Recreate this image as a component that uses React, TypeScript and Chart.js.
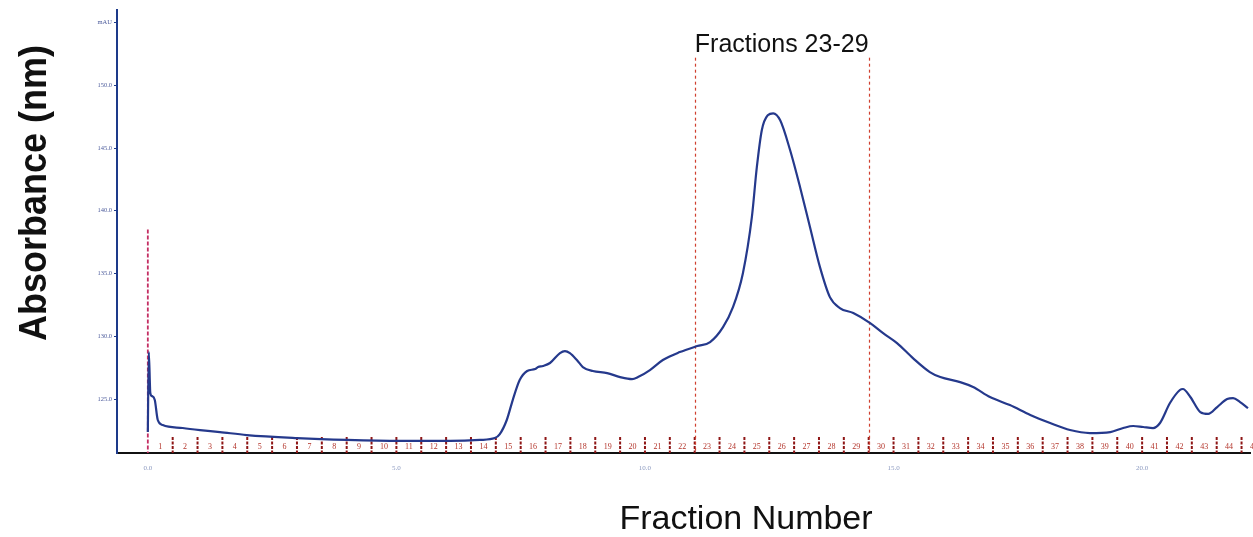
import React, { useEffect, useRef } from 'react';
import { Chart, registerables } from 'chart.js';

Chart.register(...registerables);

// Elution time (min) and UV absorbance (mAU)
const elutionTime = [
  0.0, 0.02, 0.05, 0.08, 0.14, 0.2, 0.3, 0.7, 1.05, 1.45, 1.99, 3.0, 4.0, 5.07, 6.08, 6.68, 6.98,
  7.08, 7.22, 7.34, 7.48, 7.63, 7.79, 7.85, 7.95, 8.09, 8.29, 8.39, 8.49, 8.63, 8.75, 8.95, 9.24,
  9.5, 9.74, 9.86, 10.1, 10.36, 10.7, 11.05, 11.31, 11.57, 11.77, 11.97, 12.15, 12.25, 12.35, 12.47,
  12.58, 12.72, 12.92, 13.12, 13.32, 13.52, 13.72, 13.92, 14.19, 14.53, 14.79, 15.07, 15.39, 15.73,
  15.94, 16.34, 16.6, 16.94, 17.34, 17.75, 18.15, 18.55, 18.95, 19.36, 19.62, 19.82, 20.02, 20.22,
  20.36, 20.56, 20.76, 20.82, 20.97, 21.17, 21.33, 21.51, 21.71, 21.83, 21.97, 22.13,
];
const absorbanceMAU = [
  122.37, 128.74, 125.48, 125.24, 124.92, 123.33, 122.93, 122.69, 122.53, 122.37, 122.13, 121.89,
  121.74, 121.66, 121.66, 121.74, 121.89, 122.21, 123.33, 124.92, 126.51, 127.23, 127.39, 127.55,
  127.63, 127.87, 128.66, 128.82, 128.66, 128.11, 127.55, 127.23, 127.07, 126.75, 126.59, 126.75,
  127.31, 128.11, 128.74, 129.22, 129.54, 130.73, 132.32, 135.03, 139.49, 143.47, 146.42, 147.61,
  147.77, 147.21, 144.82, 141.88, 138.69, 135.51, 133.12, 132.25, 131.85, 131.05, 130.25, 129.46,
  128.26, 127.15, 126.75, 126.35, 125.96, 125.16, 124.52, 123.73, 123.09, 122.53, 122.29, 122.37,
  122.69, 122.85, 122.77, 122.69, 123.09, 124.68, 125.72, 125.8, 125.16, 123.96, 123.81, 124.36,
  125.0, 125.08, 124.76, 124.28,
];

const xTickValues = [0, 5, 10, 15, 20];
const yTickValues = [125, 130, 135, 140, 145, 150, 155];
const yTopTickLabel = 'mAU';

const fractionNumbers = [
  1, 2, 3, 4, 5, 6, 7, 8, 9, 10, 11, 12, 13, 14, 15, 16, 17, 18, 19, 20, 21, 22, 23, 24, 25, 26, 27,
  28, 29, 30, 31, 32, 33, 34, 35, 36, 37, 38, 39, 40, 41, 42, 43, 44, 45,
];
const fractionWidthMin = 0.5;
const pooledFractions = [23, 29];
const pooledLabel = 'Fractions 23-29';
const injectionMarkTop = 138.5;
const pooledLineTop = 152.2;

const xTitle = 'Fraction Number';
const yTitle = 'Absorbance (nm)';

const overlayPlugin = {
  id: 'chromOverlay',
  beforeDatasetsDraw(chart: any) {
    const { ctx, chartArea, scales } = chart;
    const xs = scales.x;
    const ys = scales.y;
    const bottom = chartArea.bottom;
    ctx.save();
    // fraction boundary ticks
    ctx.strokeStyle = '#8e1616';
    ctx.lineWidth = 2;
    ctx.setLineDash([3, 1.5]);
    fractionNumbers.forEach((n) => {
      const t = (n - 1) * fractionWidthMin;
      if (t <= 0) return;
      const px = xs.getPixelForValue(t);
      if (px > chartArea.right + 1) return;
      ctx.beginPath();
      ctx.moveTo(px, bottom - 16);
      ctx.lineTo(px, bottom);
      ctx.stroke();
    });
    // fraction labels
    ctx.setLineDash([]);
    ctx.fillStyle = '#b3352b';
    ctx.font = '8px "Liberation Serif", serif';
    ctx.textAlign = 'center';
    ctx.textBaseline = 'middle';
    fractionNumbers.forEach((n) => {
      const t = (n - 0.5) * fractionWidthMin;
      const px = xs.getPixelForValue(t);
      if (px > chartArea.right + 4) return;
      ctx.fillText(String(n), px, bottom - 6);
    });
    // injection marker
    ctx.strokeStyle = '#c42e63';
    ctx.lineWidth = 1.8;
    ctx.setLineDash([4, 2]);
    const x0 = xs.getPixelForValue(0);
    ctx.beginPath();
    ctx.moveTo(x0, ys.getPixelForValue(injectionMarkTop));
    ctx.lineTo(x0, bottom);
    ctx.stroke();
    // pooled fraction window
    ctx.strokeStyle = '#d0402f';
    ctx.lineWidth = 1.2;
    ctx.setLineDash([3, 3]);
    const tStart = (pooledFractions[0] - 1) * fractionWidthMin;
    const tEnd = pooledFractions[1] * fractionWidthMin;
    [tStart, tEnd].forEach((t) => {
      const px = Math.round(xs.getPixelForValue(t)) + 0.5;
      ctx.beginPath();
      ctx.moveTo(px, ys.getPixelForValue(pooledLineTop));
      ctx.lineTo(px, bottom);
      ctx.stroke();
    });
    ctx.restore();
  },
  afterDraw(chart: any) {
    const { ctx, scales } = chart;
    const xs = scales.x;
    const tStart = (pooledFractions[0] - 1) * fractionWidthMin;
    const tEnd = pooledFractions[1] * fractionWidthMin;
    ctx.save();
    ctx.fillStyle = '#111';
    ctx.textAlign = 'center';
    ctx.textBaseline = 'middle';
    ctx.font = '25px "Liberation Sans", Arial, sans-serif';
    ctx.fillText(pooledLabel, (xs.getPixelForValue(tStart) + xs.getPixelForValue(tEnd)) / 2, 45);
    ctx.font = '34px "Liberation Sans", Arial, sans-serif';
    ctx.fillText(xTitle, 746, 520);
    ctx.translate(35, 193);
    ctx.rotate(-Math.PI / 2);
    ctx.scale(1, 1.1);
    ctx.font = 'bold 36px "Liberation Sans", Arial, sans-serif';
    ctx.fillText(yTitle, 0, 0);
    ctx.restore();
  },
};

export default function App() {
  const canvasRef = useRef<HTMLCanvasElement | null>(null);

  useEffect(() => {
    const canvas = canvasRef.current;
    if (!canvas) return;
    const chart = new Chart(canvas, {
      type: 'line',
      data: {
        datasets: [
          {
            label: 'A280',
            data: elutionTime.map((t, i) => ({ x: t, y: absorbanceMAU[i] })),
            borderColor: '#25398c',
            borderWidth: 2.2,
            pointRadius: 0,
            cubicInterpolationMode: 'monotone',
            fill: false,
          },
        ],
      },
      options: {
        responsive: false,
        animation: false,
        devicePixelRatio: 1,
        layout: { padding: { top: 10, right: 3, left: 0, bottom: 0 } },
        plugins: { legend: { display: false }, tooltip: { enabled: false } },
        scales: {
          x: {
            type: 'linear',
            min: -0.62,
            max: 22.17,
            afterFit: (s: any) => {
              s.height = 84;
            },
            afterBuildTicks: (s: any) => {
              s.ticks = xTickValues.map((v) => ({ value: v }));
            },
            grid: { display: false },
            border: { display: true, color: '#111', width: 2 },
            ticks: {
              padding: 3,
              color: '#8c9ac0',
              font: { size: 7, family: '"Liberation Serif", serif' },
              callback: (v: any) => Number(v).toFixed(1),
              maxRotation: 0,
              autoSkip: false,
            },
          },
          y: {
            type: 'linear',
            min: 120.7,
            max: 156,
            afterFit: (s: any) => {
              s.width = 117;
            },
            afterBuildTicks: (s: any) => {
              s.ticks = yTickValues.map((v) => ({ value: v }));
            },
            grid: {
              display: true,
              drawOnChartArea: false,
              drawTicks: true,
              tickLength: 3,
              color: '#1d3a8a',
            },
            border: { display: true, color: '#1d3a8a', width: 2 },
            ticks: {
              padding: 2,
              color: '#4d5c9c',
              font: { size: 6.5, family: '"Liberation Serif", serif' },
              callback: (v: any) =>
                Number(v) === yTickValues[yTickValues.length - 1] ? yTopTickLabel : Number(v).toFixed(1),
              autoSkip: false,
            },
          },
        },
      },
      plugins: [overlayPlugin],
    } as any);
    return () => chart.destroy();
  }, []);

  return (
    <div style={{ position: 'fixed', left: 0, top: 0, width: 1253, height: 537, background: '#fff' }}>
      <canvas ref={canvasRef} width={1253} height={537} style={{ display: 'block' }} />
    </div>
  );
}
